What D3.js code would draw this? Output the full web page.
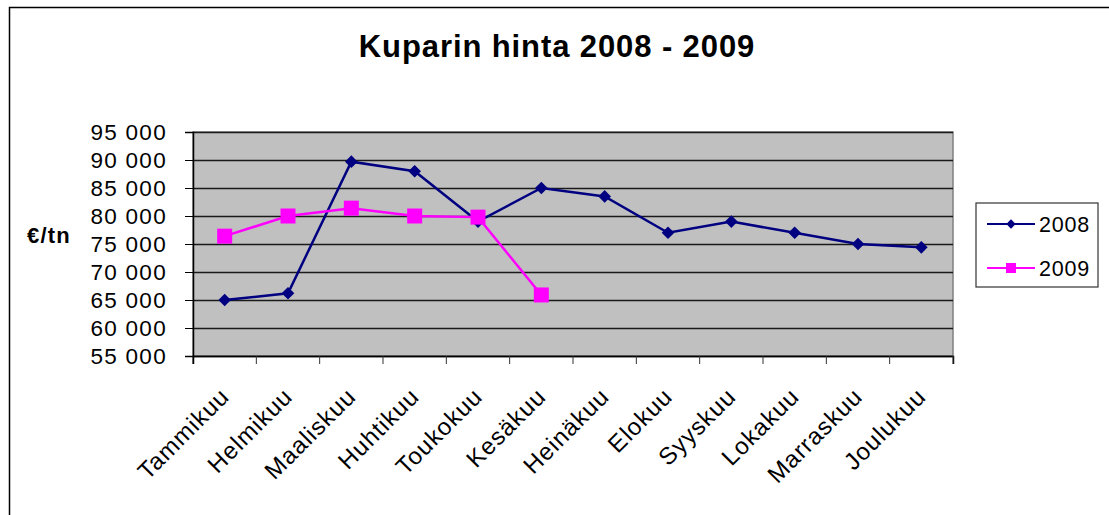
<!DOCTYPE html>
<html>
<head>
<meta charset="utf-8">
<script src="https://cdn.jsdelivr.net/npm/d3@7"></script>
<style>
  body { margin: 0; background: #fff; }
  text { font-family: Arial, "Liberation Sans", sans-serif; }
</style>
</head>
<body>
<div class="chart"></div>
<script>
const months = ["Tammikuu","Helmikuu","Maaliskuu","Huhtikuu","Toukokuu","Kesäkuu","Heinäkuu","Elokuu","Syyskuu","Lokakuu","Marraskuu","Joulukuu"]
const values2008 = [65000, 66200, 89700, 88000, 79000, 85000, 83500, 77000, 79000, 77000, 75000, 74400]
const values2009 = [76400, 80000, 81400, 80000, 79800, 65900]
const yTicks = [55000, 60000, 65000, 70000, 75000, 80000, 85000, 90000, 95000]

const W = 1109, H = 515
const margin = ({top: 132, right: 156, bottom: 159, left: 193})
const width = W - margin.left - margin.right,
  height = H - margin.top - margin.bottom;

const svg = d3.select(".chart").append("svg")
  .attr("width", W)
  .attr("height", H)

// outer frame (only top and left visible)
svg.append("path")
  .attr("d", `M9.5,${H} V7.5 H${W}`)
  .attr("fill", "none")
  .attr("stroke", "black")
  .attr("stroke-width", 1.5)

svg.append("text")
  .attr("x", 557).attr("y", 57)
  .attr("text-anchor", "middle")
  .attr("font-size", 31)
  .attr("font-weight", "bold")
  .attr("letter-spacing", 0.9)
  .text("Kuparin hinta 2008 - 2009")

const g = svg.append("g")
  .attr("transform", `translate(${margin.left},${margin.top})`)

const xScale = d3.scaleBand()
  .domain(months)
  .range([0, width])

const yScale = d3.scaleLinear()
  .domain([55000, 95000])
  .range([height, 0])

// plot area
g.append("rect")
  .attr("width", width).attr("height", height)
  .attr("fill", "#c0c0c0")
  .attr("stroke", "#808080")
  .attr("stroke-width", 1.5)

const yGrid = d3.axisLeft(yScale).tickValues(yTicks).tickSize(-width).tickFormat('')
g.append("g").attr("class", "grid").call(yGrid)
  .call(s => s.select(".domain").remove())
  .selectAll("line").attr("stroke", "#1a1a1a").attr("stroke-width", 1.5)

const fmt = d => d3.format(",")(d).replace(",", " ")
const yAxis = d3.axisLeft(yScale).tickValues(yTicks).tickSize(8).tickPadding(18).tickFormat(fmt)
g.append("g").attr("class", "y-axis").call(yAxis)
  .call(s => s.selectAll("text").attr("font-size", 22.5).attr("fill", "#000").attr("letter-spacing", 1.3))
  .call(s => s.select(".domain").attr("stroke-width", 1.5))

const xAxis = d3.axisBottom(xScale).tickSize(8).tickFormat('')
g.append("g").attr("class", "x-axis")
  .attr("transform", `translate(0,${height})`)
  .call(xAxis)
  .call(s => s.select(".domain").attr("stroke-width", 1.5))
  .call(s => s.selectAll(".tick line").attr("transform", `translate(${xScale.bandwidth()/2},0)`).attr("stroke", "#333"))

// first tick at left edge
g.append("line").attr("x1", 0).attr("x2", 0).attr("y1", height).attr("y2", height + 8).attr("stroke", "black")

g.selectAll(".xlab")
  .data(months)
  .enter()
  .append("text")
  .attr("class", "xlab")
  .attr("text-anchor", "end")
  .attr("font-size", 24)
  .attr("letter-spacing", 1)
  .attr("transform", d => `translate(${xScale(d) + xScale.bandwidth()/2 + 6},${height + 42}) rotate(-45)`)
  .text(d => d)

svg.append("text")
  .attr("x", 27).attr("y", 243)
  .attr("font-size", 22)
  .attr("font-weight", "bold")
  .attr("letter-spacing", 1.2)
  .text("€/tn")

const cx = d => xScale(d) + xScale.bandwidth()/2
const line = d3.line()
  .x(d => cx(d.m))
  .y(d => yScale(d.v))

const d2008 = months.map((m, i) => ({m, v: values2008[i]}))
const d2009 = values2009.map((v, i) => ({m: months[i], v}))

g.append("path").datum(d2008)
  .attr("fill", "none").attr("stroke", "#000080").attr("stroke-width", 2.5)
  .attr("d", line)

g.append("path").datum(d2009)
  .attr("fill", "none").attr("stroke", "#ff00ff").attr("stroke-width", 2.5)
  .attr("d", line)

const diamond = d3.symbol().type(d3.symbolSquare).size(80)
g.selectAll(".p2008")
  .data(d2008)
  .enter()
  .append("path")
  .attr("d", diamond)
  .attr("fill", "#000080")
  .attr("transform", d => `translate(${cx(d.m)},${yScale(d.v)}) rotate(45)`)

g.selectAll(".p2009")
  .data(d2009)
  .enter()
  .append("rect")
  .attr("x", d => cx(d.m) - 7.5)
  .attr("y", d => yScale(d.v) - 7.5)
  .attr("width", 15).attr("height", 15)
  .attr("fill", "#ff00ff")

// legend
const legend = svg.append("g").attr("transform", "translate(976,203)")
legend.append("rect")
  .attr("width", 122).attr("height", 84)
  .attr("fill", "white").attr("stroke", "#333").attr("stroke-width", 1.2)

const items = [{name: "2008", color: "#000080", y: 21}, {name: "2009", color: "#ff00ff", y: 65}]
items.forEach(it => {
  legend.append("line")
    .attr("x1", 11).attr("x2", 59).attr("y1", it.y).attr("y2", it.y)
    .attr("stroke", it.color).attr("stroke-width", 2)
  if (it.name === "2008") {
    legend.append("path")
      .attr("d", d3.symbol().type(d3.symbolSquare).size(44))
      .attr("fill", it.color)
      .attr("transform", `translate(35,${it.y}) rotate(45)`)
  } else {
    legend.append("rect")
      .attr("x", 30).attr("y", it.y - 5).attr("width", 10).attr("height", 10)
      .attr("fill", it.color)
  }
  legend.append("text")
    .attr("x", 63).attr("y", it.y + 8)
    .attr("font-size", 21.5)
    .attr("letter-spacing", 0.8)
    .text(it.name)
})
</script>
</body>
</html>
